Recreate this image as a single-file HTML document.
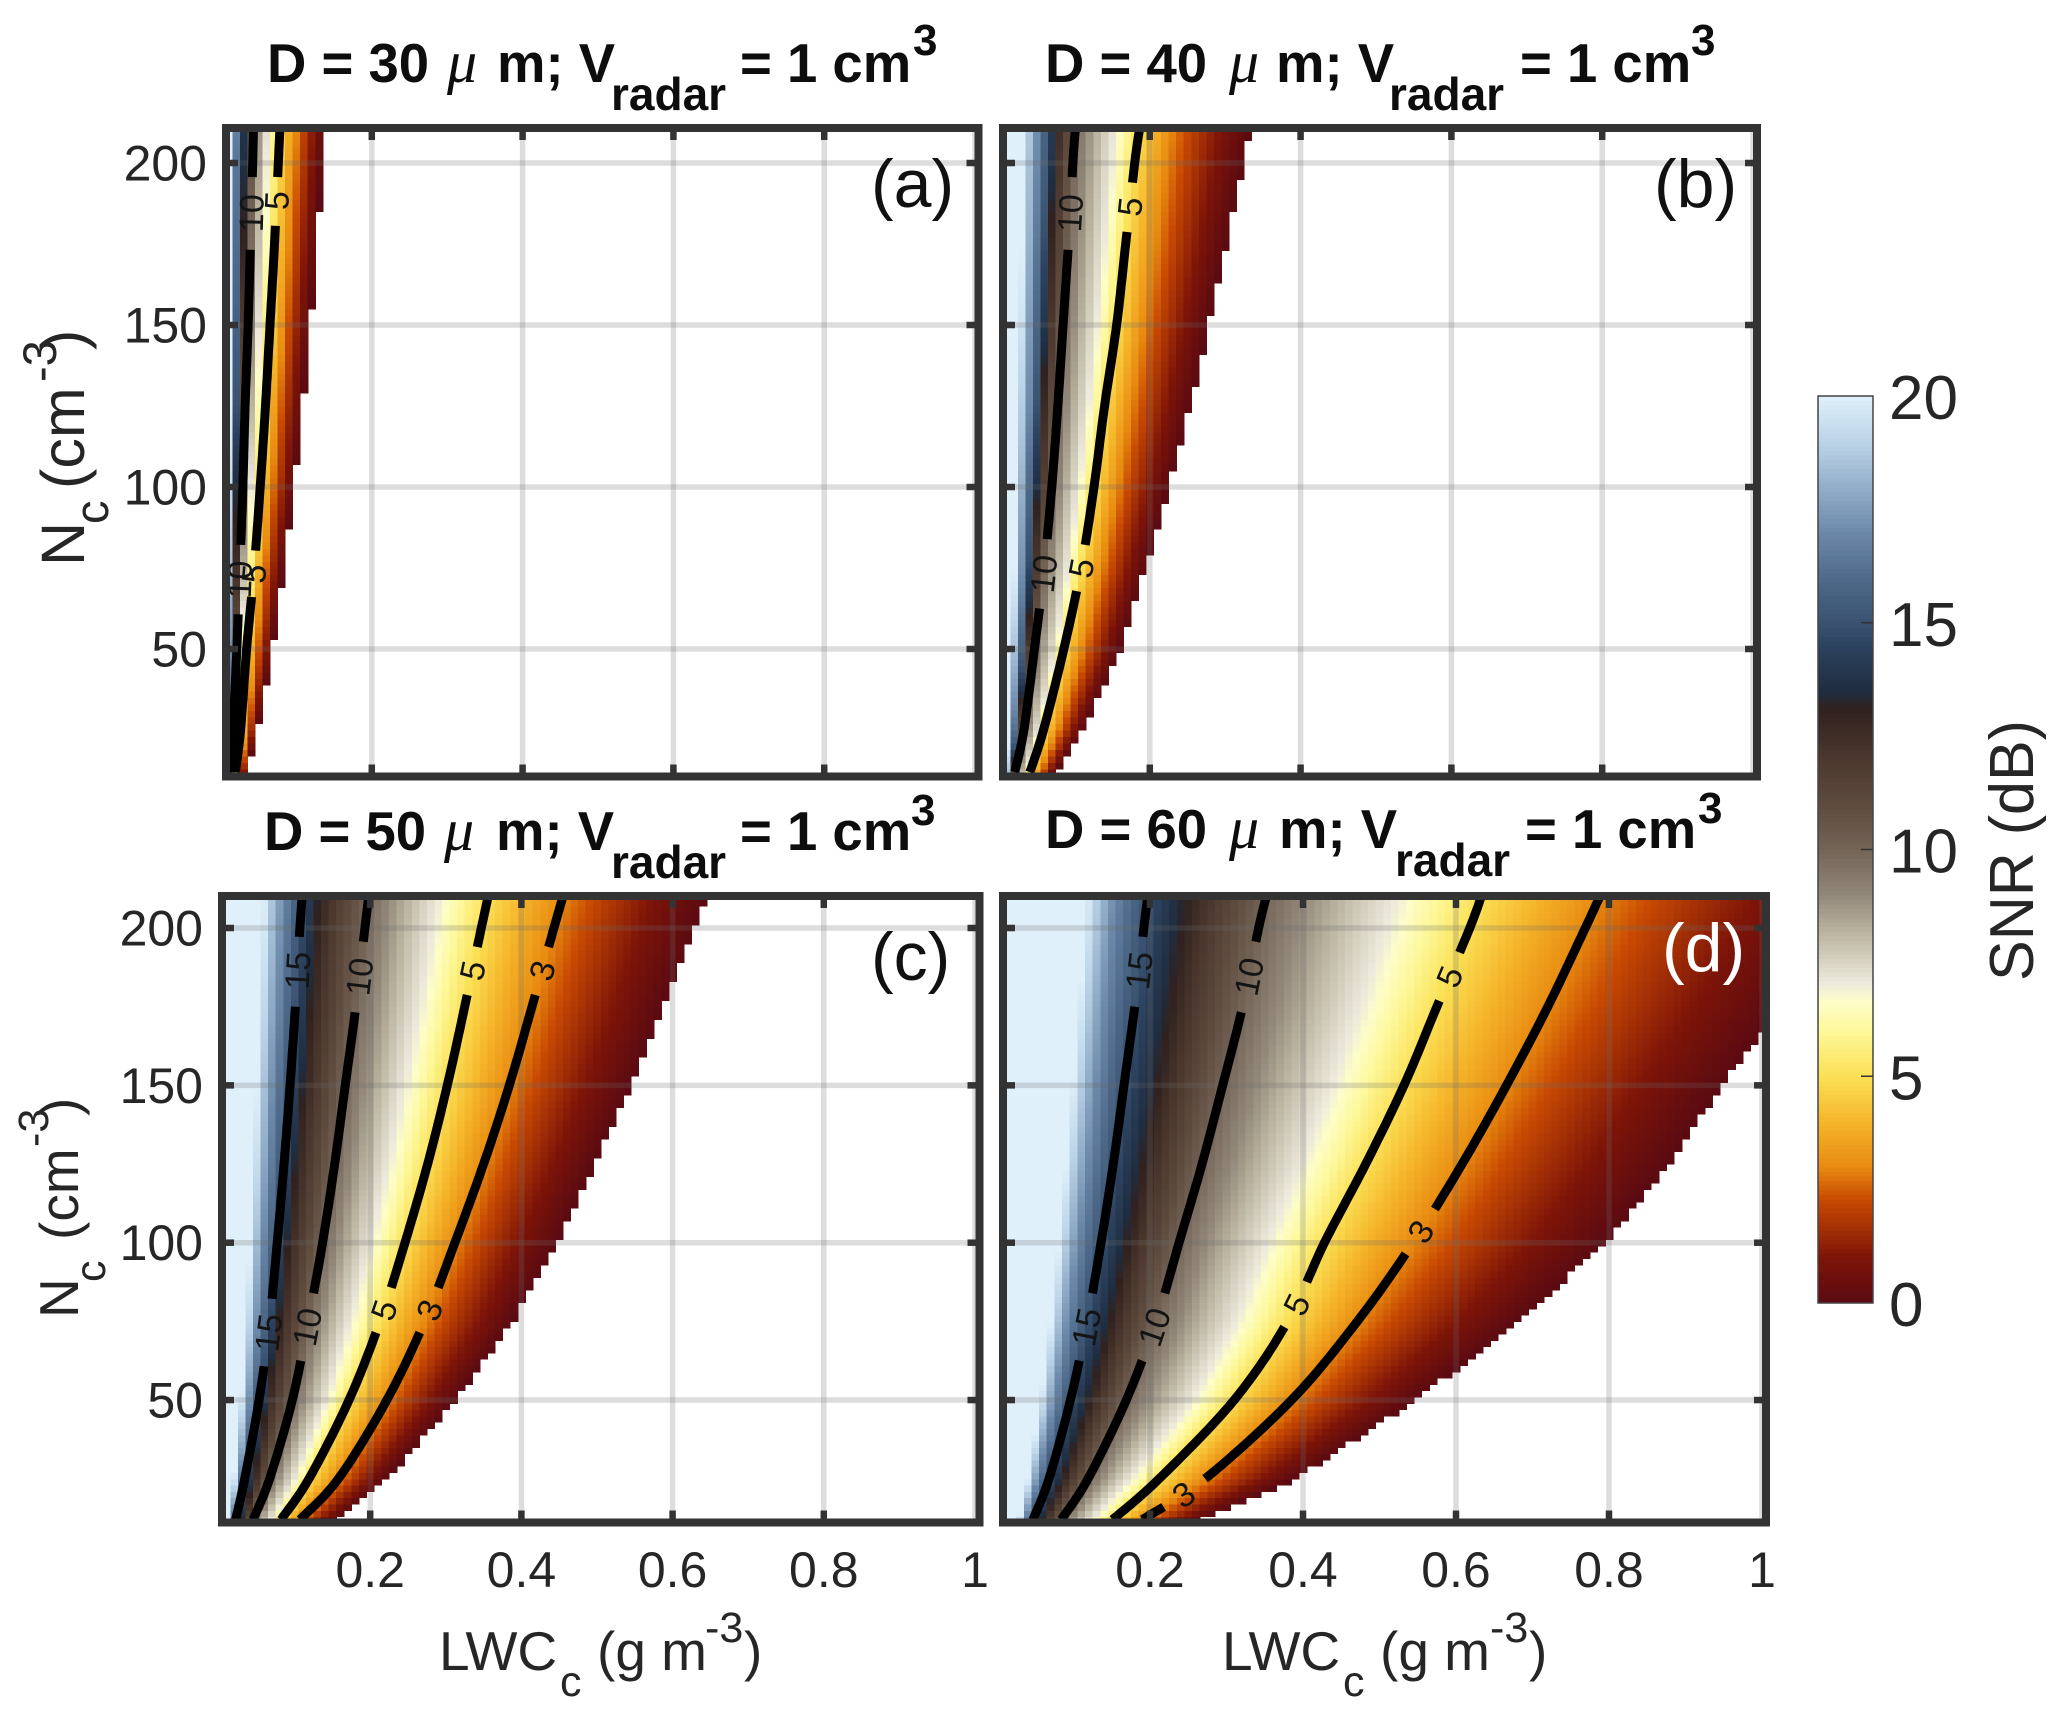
<!DOCTYPE html>
<html lang="en">
<head>
<meta charset="utf-8">
<title>SNR vs LWC and Nc</title>
<style>
html,body{margin:0;padding:0;background:#fff;}
svg{display:block;font-family:"Liberation Sans",sans-serif;}
.ttl{font-weight:bold;fill:#0d0d0d;font-size:54.5px;}
.ttl-sub{font-weight:bold;fill:#0d0d0d;font-size:46px;}
.ttl-sup{font-weight:bold;fill:#0d0d0d;font-size:44px;}
.ttl-mu{font-family:"Liberation Serif",serif;font-style:italic;fill:#0d0d0d;font-size:60px;}
.ax{fill:#262626;font-size:55px;}
.ax-s{fill:#262626;font-size:43px;}
.tick{fill:#262626;font-size:50px;}
.letter{font-size:68px;fill:#111;}
.cb{fill:#262626;font-size:62px;}
</style>
</head>
<body>
<svg id="fig" xmlns="http://www.w3.org/2000/svg" width="2067" height="1723" viewBox="0 0 2067 1723">
  <rect width="2067" height="1723" fill="#fff"/>
  <g id="panel-a"></g>
  <g id="panel-b"></g>
  <g id="panel-c"></g>
  <g id="panel-d"></g>
  <g id="colorbar"></g>

  <g>
    <text class="ttl" x="267" y="82">D = 30</text>
    <text class="ttl-mu" x="447" y="82">μ</text>
    <text class="ttl" x="497" y="82">m; V</text>
    <text class="ttl-sub" x="611" y="110">radar</text>
    <text class="ttl" x="740" y="82">= 1 cm</text>
    <text class="ttl-sup" x="913" y="55">3</text>
  </g>
  <g>
    <text class="ttl" x="1045" y="82">D = 40</text>
    <text class="ttl-mu" x="1229" y="82">μ</text>
    <text class="ttl" x="1276" y="82">m; V</text>
    <text class="ttl-sub" x="1389" y="110">radar</text>
    <text class="ttl" x="1520" y="82">= 1 cm</text>
    <text class="ttl-sup" x="1691" y="55">3</text>
  </g>
  <g>
    <text class="ttl" x="264" y="850">D = 50</text>
    <text class="ttl-mu" x="444" y="850">μ</text>
    <text class="ttl" x="496" y="850">m; V</text>
    <text class="ttl-sub" x="611" y="878">radar</text>
    <text class="ttl" x="740" y="850">= 1 cm</text>
    <text class="ttl-sup" x="911" y="825">3</text>
  </g>
  <g>
    <text class="ttl" x="1045" y="848">D = 60</text>
    <text class="ttl-mu" x="1229" y="848">μ</text>
    <text class="ttl" x="1279" y="848">m; V</text>
    <text class="ttl-sub" x="1395" y="876">radar</text>
    <text class="ttl" x="1525" y="848">= 1 cm</text>
    <text class="ttl-sup" x="1698" y="823">3</text>
  </g>

  <g>
    <text class="ax" style="font-size:61px" transform="translate(84,566) rotate(-90)">N</text>
    <text class="ax-s" style="font-size:47px" transform="translate(108,524) rotate(-90)">c</text>
    <text class="ax" style="font-size:61px" transform="translate(84,489) rotate(-90)">(cm</text>
    <text class="ax-s" style="font-size:47px" transform="translate(56,382) rotate(-90)">-3</text>
    <text class="ax" style="font-size:61px" transform="translate(84,350) rotate(-90)">)</text>
  </g>
  <g>
    <text class="ax" transform="translate(78,1318) rotate(-90)">N</text>
    <text class="ax-s" transform="translate(105,1282) rotate(-90)">c</text>
    <text class="ax" transform="translate(78,1240) rotate(-90)">(cm</text>
    <text class="ax-s" transform="translate(48,1147) rotate(-90)">-3</text>
    <text class="ax" transform="translate(78,1116) rotate(-90)">)</text>
  </g>
  <g>
    <text class="ax" x="439" y="1670">LWC</text>
    <text class="ax-s" x="560" y="1696">c</text>
    <text class="ax" x="597" y="1670">(g m</text>
    <text class="ax-s" x="705" y="1642">-3</text>
    <text class="ax" x="744" y="1670">)</text>
  </g>
  <g>
    <text class="ax" x="1222" y="1670">LWC</text>
    <text class="ax-s" x="1343" y="1696">c</text>
    <text class="ax" x="1380" y="1670">(g m</text>
    <text class="ax-s" x="1490" y="1642">-3</text>
    <text class="ax" x="1529" y="1670">)</text>
  </g>

  <text class="letter" x="871" y="207">(a)</text>
  <text class="letter" x="1654" y="207">(b)</text>
  <text class="letter" x="871" y="980">(c)</text>
  <text class="letter" style="fill:#fff" x="1662" y="971">(d)</text>

  <text class="cb" transform="translate(2033,981) rotate(-90)" textLength="261" lengthAdjust="spacingAndGlyphs">SNR (dB)</text>
</svg>

<script>
// ---------- DATA ----------
// Colormap: SNR value -> colour
const cmapValues = [0, 1, 2.3, 3, 4, 5, 6, 6.65, 7.05, 8.3, 9, 10, 11, 12.1, 13.1, 13.5, 14.5, 15, 16, 17, 18, 19, 20];
const cmapColors = ['#5a0a12','#7d1408','#c84a02','#e88a10','#f5b52a','#fbe055','#fdf89a','#fdfdc8','#eeeadc','#b5ae9a','#92887a','#736456','#5e4b3e','#4a362c','#30211f','#1f2d40','#2c425f','#3a5270','#4f6a8a','#6d89aa','#93aec9','#bcd4e8','#dff0fa'];
const colorbarTicks = [0, 5, 10, 15, 20];

// Droplet concentration rows (cm-3) at which SNR isolines were read
const nRows = [12, 25, 50, 75, 100, 125, 150, 175, 200, 210];
// SNR levels (dB) – columns of the tables below
const snrLevels = [0, 3, 5, 7, 10, 13, 15, 17, 20];

// LWC (g m-3) where SNR reaches each level, one row per nRows entry
const lwcPanelA = [
 [.034,.024,.019,.016,.013,.010,.009,.008,.006],
 [.048,.034,.026,.021,.016,.012,.010,.008,.006],
 [.068,.046,.034,.027,.021,.016,.013,.010,.007],
 [.083,.057,.044,.034,.025,.019,.015,.012,.008],
 [.097,.067,.052,.040,.029,.021,.017,.013,.009],
 [.108,.075,.059,.046,.032,.024,.020,.015,.010],
 [.118,.083,.065,.051,.036,.027,.022,.016,.010],
 [.127,.090,.071,.056,.039,.030,.024,.017,.011],
 [.134,.097,.076,.060,.042,.032,.025,.018,.011],
 [.137,.100,.078,.062,.043,.033,.026,.019,.012]];
const lwcPanelB = [
 [.075,.054,.041,.037,.021,.018,.016,.012,.008],
 [.111,.078,.059,.053,.033,.026,.023,.018,.011],
 [.160,.111,.086,.075,.047,.037,.032,.025,.016],
 [.194,.136,.109,.092,.060,.045,.039,.031,.020],
 [.225,.157,.126,.106,.070,.052,.045,.035,.023],
 [.253,.175,.140,.119,.078,.058,.050,.040,.025],
 [.278,.192,.156,.130,.085,.064,.055,.043,.028],
 [.301,.208,.168,.140,.092,.069,.059,.047,.030],
 [.324,.222,.180,.150,.098,.074,.064,.050,.032],
 [.333,.228,.186,.154,.101,.076,.065,.051,.033]];
const lwcPanelC = [
 [.155,.107,.082,.070,.045,.032,.022,.018,.012],
 [.222,.158,.119,.101,.067,.046,.034,.028,.019],
 [.312,.222,.172,.143,.097,.065,.053,.041,.029],
 [.388,.272,.213,.175,.118,.080,.067,.051,.036],
 [.446,.312,.246,.202,.137,.092,.077,.059,.041],
 [.496,.350,.276,.226,.153,.103,.086,.066,.046],
 [.545,.384,.302,.247,.167,.113,.094,.072,.050],
 [.588,.414,.325,.267,.181,.122,.101,.078,.054],
 [.629,.443,.347,.285,.193,.130,.107,.083,.058],
 [.645,.455,.356,.292,.198,.133,.110,.086,.059]];
const lwcPanelD = [
 [.266,.190,.151,.125,.084,.060,.047,.037,.028],
 [.390,.272,.212,.176,.119,.087,.068,.053,.040],
 [.547,.385,.310,.257,.169,.122,.096,.075,.057],
 [.682,.471,.380,.315,.208,.150,.118,.092,.070],
 [.795,.544,.428,.355,.238,.173,.136,.106,.081],
 [.878,.608,.482,.400,.268,.193,.152,.119,.090],
 [.947,.666,.532,.440,.295,.212,.166,.130,.099],
 [1.025,.720,.575,.478,.321,.229,.180,.140,.107],
 [1.090,.769,.618,.513,.342,.245,.192,.150,.115],
 [1.120,.788,.633,.525,.352,.251,.197,.154,.117]];

// Contour levels drawn per panel, and the Nc at which their inline labels sit
const contourLabelsA = {5:[74,188], 10:[72,185]};
const contourLabelsB = {5:[75,187], 10:[73,185]};
const contourLabelsC = {3:[78,186], 5:[78,186], 10:[74,185], 15:[72,187]};
const contourLabelsD = {3:[20,104], 5:[81,184], 10:[74,184], 15:[74,186]};

// Axis tick labels
const xTicks = [0.2, 0.4, 0.6, 0.8];
const xTickLabels = ['0.2', '0.4', '0.6', '0.8', '1'];
const xTickLabelValues = [0.2, 0.4, 0.6, 0.8, 1];
const yTicks = [50, 100, 150, 200];
const yTickLabels = ['50', '100', '150', '200'];

// ---------- GEOMETRY ----------
const frames = {
  a:{x0:226, x1:978.5, y0:128, y1:776.5, ox:221, sx:754, oy:163, sy:3.24, table:lwcPanelA, labels:contourLabelsA, ylab:207, xlab:false},
  b:{x0:1003,x1:1757,  y0:128, y1:776.5, ox:999, sx:754, oy:163, sy:3.24, table:lwcPanelB, labels:contourLabelsB, ylab:null,xlab:false},
  c:{x0:222, x1:979.5, y0:896, y1:1522.5,ox:219, sx:756, oy:928, sy:3.147,table:lwcPanelC, labels:contourLabelsC, ylab:203, xlab:true},
  d:{x0:1003,x1:1766,  y0:896, y1:1522.5,ox:997, sx:765, oy:928, sy:3.147,table:lwcPanelD, labels:contourLabelsD, ylab:null,xlab:true}
};
const NS = 'http://www.w3.org/2000/svg';
function mk(tag, attrs, parent){
  const el = document.createElementNS(NS, tag);
  for (const k in attrs) el.setAttribute(k, attrs[k]);
  parent.appendChild(el);
  return el;
}
function hexRgb(h){ return [1,3,5].map(i => parseInt(h.substr(i,2),16)); }
const cmapRgb = cmapColors.map(hexRgb);
function colorOf(v){
  if (v <= cmapValues[0]) return cmapColors[0];
  const last = cmapValues.length - 1;
  if (v >= cmapValues[last]) return cmapColors[last];
  let i = 0;
  while (cmapValues[i+1] < v) i++;
  const t = (v - cmapValues[i]) / (cmapValues[i+1] - cmapValues[i]);
  const a = cmapRgb[i], b = cmapRgb[i+1];
  return 'rgb(' + a.map((c,j) => Math.round(c + (b[j]-c)*t)).join(',') + ')';
}
function rowAt(table, n){
  let i = 0;
  while (i < nRows.length-2 && nRows[i+1] < n) i++;
  const t = (n - nRows[i]) / (nRows[i+1] - nRows[i]);
  return table[i].map((v,j) => v + (table[i+1][j]-v)*t);
}
function snrAt(table, lwc, n){
  const r = rowAt(table, n);
  if (lwc > r[0]) return null;
  const last = r.length - 1;
  if (lwc <= r[last]) return snrLevels[last];
  let j = 0;
  while (r[j+1] > lwc) j++;
  const t = Math.log(r[j]/lwc) / Math.log(r[j]/r[j+1]);
  return snrLevels[j] + (snrLevels[j+1]-snrLevels[j])*t;
}

function drawPanel(key){
  const f = frames[key];
  const root = document.getElementById('panel-' + key);
  const X = v => f.ox + f.sx * v;
  const Y = n => f.oy + (200 - n) * f.sy;

  const clip = mk('clipPath', {id:'clip-' + key}, root);
  mk('rect', {x:f.x0, y:f.y0, width:f.x1-f.x0, height:f.y1-f.y0}, clip);

  // heatmap cells
  const heat = mk('g', {'clip-path':'url(#clip-'+key+')', 'shape-rendering':'crispEdges'}, root);
  
  
  for (let n = 10; n <= 212; n += 2){
    for (let k = 1; k <= 100; k++){
      const lwc = k / 100;
      const v = snrAt(f.table, lwc, n);
      if (v === null) continue;
      const xa = X(lwc - .005), xb = X(lwc + .005), yt = Y(n + 1), yb = Y(n - 1);
      const cell = mk('rect', {x:xa.toFixed(1), y:yt.toFixed(1), width:(xb-xa+.6).toFixed(1), height:(yb-yt+.6).toFixed(1), fill:colorOf(v)}, heat);
      
      
    }
  }

  // grid
  const grid = mk('g', {stroke:'rgba(110,110,110,.23)', 'stroke-width':5.5}, root);
  
  
  xTicks.forEach(t => {
    const gl = mk('line', {x1:X(t), x2:X(t), y1:f.y0, y2:f.y1}, grid);
    
    
  });
  [1].forEach(t => {
    const gl = mk('line', {x1:X(t), x2:X(t), y1:f.y0, y2:f.y1}, grid);
    
    
  });
  yTicks.forEach(t => {
    const gl = mk('line', {x1:f.x0, x2:f.x1, y1:Y(t), y2:Y(t)}, grid);
    
    
  });

  // contours with label gaps
  const cont = mk('g', {'clip-path':'url(#clip-'+key+')', fill:'none', stroke:'#000', 'stroke-width':9}, root);
  
  
  const textGroup = mk('g', {}, root);
  
  
  Object.keys(f.labels).forEach(lv => {
    const level = +lv;
    const col = snrLevels.indexOf(level);
    const pts = nRows.map((n,i) => [X(f.table[i][col]), Y(n)]);
    const fine = [];
    for (let i = 0; i < pts.length-1; i++){
      const p0 = pts[Math.max(i-1,0)], p1 = pts[i], p2 = pts[i+1], p3 = pts[Math.min(i+2,pts.length-1)];
      for (let s = 0; s < 14; s++){
        const t = s/14, t2 = t*t, t3 = t2*t;
        fine.push([0,1].map(d => .5*(2*p1[d] + (p2[d]-p0[d])*t + (2*p0[d]-5*p1[d]+4*p2[d]-p3[d])*t2 + (3*p1[d]-p0[d]-3*p2[d]+p3[d])*t3)));
      }
    }
    fine.push(pts[pts.length-1]);
    const gapHalf = level >= 10 ? 33 : 22;
    const centers = f.labels[lv].map(n => {
      const yy = Y(n);
      let bi = 1, best = 1e9;
      fine.forEach((p,i) => { if (i>0 && i<fine.length-1){ const dd = Math.abs(p[1]-yy); if (dd<best){best=dd;bi=i;} } });
      const a = fine[bi-1], b = fine[bi+1];
      return {p:fine[bi], ang:Math.atan2(a[1]-b[1], a[0]-b[0])*180/Math.PI};
    });
    let d = '', pen = false;
    fine.forEach(p => {
      const hidden = centers.some(c => Math.hypot(p[0]-c.p[0], p[1]-c.p[1]) < gapHalf);
      if (hidden){ pen = false; return; }
      d += (pen ? 'L' : 'M') + p[0].toFixed(1) + ' ' + p[1].toFixed(1);
      pen = true;
    });
    const line = mk('path', {d:d}, cont);
    
    
    centers.forEach(c => {
      let ang = c.ang;
      if (ang > 90) ang -= 180;
      if (ang < -90) ang += 180;
      if (ang > 0) ang -= 180;
      const tx = mk('text', {transform:'translate('+c.p[0].toFixed(1)+','+c.p[1].toFixed(1)+') rotate('+ang.toFixed(1)+')', 'text-anchor':'middle', y:12, fill:'#141414', 'font-size':34}, textGroup);
      tx.textContent = String(level);
      
      
    });
  });

  // frame + ticks
  const ticks = mk('g', {stroke:'#333', 'stroke-width':6.5}, root);
  
  
  const L = 12;
  xTicks.forEach(t => {
    const a = mk('line', {x1:X(t), x2:X(t), y1:f.y1, y2:f.y1-L}, ticks);
    
    
    const b = mk('line', {x1:X(t), x2:X(t), y1:f.y0, y2:f.y0+L}, ticks);
    
    
  });
  yTicks.forEach(t => {
    const a = mk('line', {x1:f.x0, x2:f.x0+L, y1:Y(t), y2:Y(t)}, ticks);
    
    
    const b = mk('line', {x1:f.x1, x2:f.x1-L, y1:Y(t), y2:Y(t)}, ticks);
    
    
  });
  const fr = mk('rect', {x:f.x0, y:f.y0, width:f.x1-f.x0, height:f.y1-f.y0, fill:'none', stroke:'#333', 'stroke-width':8}, root);
  
  

  // tick labels
  if (f.ylab !== null){
    yTicks.forEach((t,i) => {
      const tl = mk('text', {x:f.ylab, y:Y(t)+17.5, 'text-anchor':'end', class:'tick'}, root);
      tl.textContent = yTickLabels[i];
      
      
    });
  }
  if (f.xlab){
    xTickLabelValues.forEach((t,i) => {
      const tl = mk('text', {x:X(t), y:1587, 'text-anchor':'middle', class:'tick'}, root);
      tl.textContent = xTickLabels[i];
      
      
    });
  }
}

function drawColorbar(){
  const root = document.getElementById('colorbar');
  const cbY = v => 1303 - (v/20)*907;
  const bar = mk('g', {'shape-rendering':'crispEdges'}, root);
  
  
  for (let i = 0; i < 200; i++){
    const v = i/10;
    const seg = mk('rect', {x:1818, width:55, y:cbY(v+.1).toFixed(1), height:(907/200+.6).toFixed(1), fill:colorOf(v+.05)}, bar);
    
    
  }
  const box = mk('rect', {x:1818, y:396, width:55, height:907, fill:'none', stroke:'#444', 'stroke-width':1.5}, root);
  
  
  colorbarTicks.forEach(v => {
    if (v > 0 && v < 20){
      const tk = mk('line', {x1:1873, x2:1861, y1:cbY(v), y2:cbY(v), stroke:'#333', 'stroke-width':1.5}, root);
      
      
    }
    const tl = mk('text', {x:1889, y:cbY(v)+23, class:'cb'}, root);
    tl.textContent = String(v);
    
    
  });
}

['a','b','c','d'].forEach(drawPanel);
drawColorbar();
</script>
</body>
</html>
